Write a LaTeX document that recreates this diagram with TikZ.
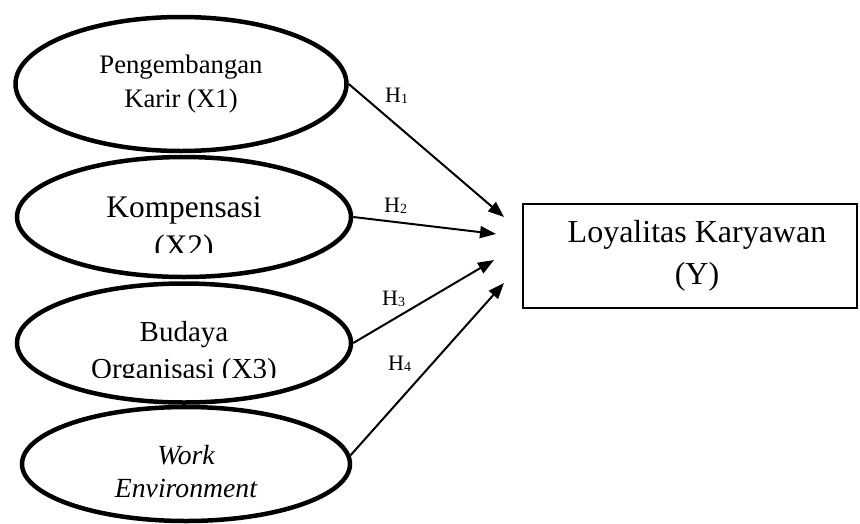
\documentclass[tikz,border=0pt]{standalone}
\usepackage{fontspec}
\setmainfont{Liberation Serif}
\usepackage{tikz}
\usetikzlibrary{calc, arrows.meta, shapes, positioning}
\tikzset{
    ellipsenode/.style = {draw, ellipse, line width=4.5pt, inner sep = 0em, node distance=0em},
    boxnode/.style = {draw, rectangle, line width=2pt, inner sep = 0em, node distance=0em},
    textnode/.style = {draw=none, fill=none, rectangle, inner sep = 0em, node distance=0em},
    hnode/.style = {draw=none, fill=none, inner sep = 0em, node distance=0em, font=\fontsize{22}{26}\selectfont},
    connect/.style = {black, line width=2pt, -{Triangle[length=16pt, width=12pt]}},
    every text node part/.style={align=center}
}
\newcommand{\hsub}[1]{H\raisebox{-1.5pt}{\fontsize{14}{14}\selectfont #1}}

\begin{document}
\begin{tikzpicture}
\useasboundingbox (0pt,0pt) rectangle (860pt,-523pt);

\node [ellipsenode, minimum width=331pt, minimum height=134pt, name=X1, font=\fontsize{26.7}{34}\selectfont] at (181pt,-84pt) {Pengembangan\\Karir (X1)};
\node [ellipsenode, minimum width=334pt, minimum height=120pt, name=X2, below of=X1, xshift=3pt, yshift=-133pt] {};
\node [ellipsenode, minimum width=334pt, minimum height=119pt, name=X3, below of=X2, yshift=-126pt] {};
\node [ellipsenode, minimum width=328pt, minimum height=114pt, name=X4, below of=X3, xshift=2pt, yshift=-121pt] {};

\begin{scope}
\clip ($(X2.north west)+(0pt,4pt)$) rectangle ($(X2.east)+(0pt,-35pt)$);
\node [textnode, name=X2text, below of=X2, yshift=-13pt, font=\fontsize{31.4}{39.5}\selectfont] {Kompensasi\\(X2)};
\end{scope}
\begin{scope}
\clip ($(X3.north west)+(0pt,4pt)$) rectangle ($(X3.east)+(0pt,-34pt)$);
\node [textnode, name=X3text, below of=X3, yshift=-10pt, font=\fontsize{29}{37}\selectfont] {Budaya\\Organisasi (X3)};
\end{scope}
\node [textnode, name=X4text, below of=X4, yshift=-8pt, font=\fontsize{27.7}{33}\selectfont\itshape] {Work\\Environment};

\node [boxnode, minimum width=334pt, minimum height=104pt, name=Y, right of=X2, xshift=506pt, yshift=-39pt, font=\fontsize{32}{42}\selectfont] {\hspace*{14pt}Loyalitas Karyawan\\\hspace*{14pt}(Y)};

\coordinate (tip1) at ($(Y.west)+(-18pt,39pt)$);
\coordinate (tip2) at ($(Y.west)+(-26pt,22pt)$);
\coordinate (tip3) at ($(Y.west)+(-28pt,-4pt)$);
\coordinate (tip4) at ($(Y.west)+(-18pt,-27pt)$);

\draw (X1.east) edge[connect] (tip1);
\draw (X2.east) edge[connect] (tip2);
\draw (X3.east) edge[connect] (tip3);
\draw (X4.3) edge[connect] (tip4);

\node [hnode, name=h1, right of=X1, xshift=204pt, yshift=-18pt, anchor=base west] {\hsub{1}};
\node [hnode, name=h2, right of=X2, xshift=200pt, yshift=5pt, anchor=base west] {\hsub{2}};
\node [hnode, name=h3, right of=X3, xshift=198pt, yshift=38pt, anchor=base west] {\hsub{3}};
\node [hnode, name=h4, right of=X4, xshift=202pt, yshift=94pt, anchor=base west] {\hsub{4}};
\end{tikzpicture}
\end{document}
